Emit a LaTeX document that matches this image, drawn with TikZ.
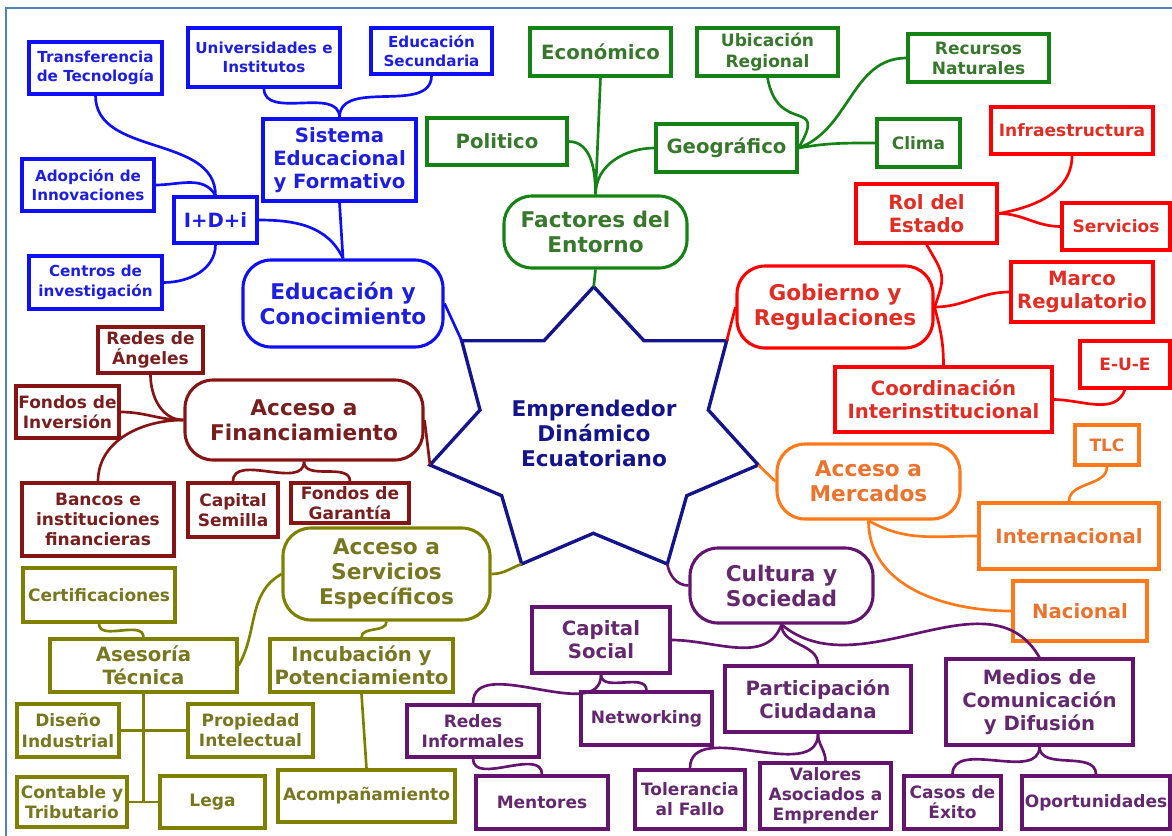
\documentclass[tikz,border=0pt]{standalone}
\usepackage{fontspec}
\setmainfont{DejaVu Sans}

\definecolor{marco}{RGB}{80,130,190}
\definecolor{navy}{RGB}{20,20,140}
\definecolor{azul}{RGB}{15,15,245}
\definecolor{azulT}{RGB}{30,30,225}
\definecolor{verde}{RGB}{20,130,20}
\definecolor{verdeT}{RGB}{55,120,45}
\definecolor{rojo}{RGB}{255,0,0}
\definecolor{rojoT}{RGB}{225,45,35}
\definecolor{granate}{RGB}{135,20,20}
\definecolor{granateT}{RGB}{120,30,30}
\definecolor{oliva}{RGB}{128,128,0}
\definecolor{olivaT}{RGB}{120,118,30}
\definecolor{naranja}{RGB}{255,120,25}
\definecolor{naranjaT}{RGB}{235,115,45}
\definecolor{morado}{RGB}{100,20,110}
\definecolor{moradoT}{RGB}{100,40,110}

\begin{document}
\begin{tikzpicture}[x=0.025cm, y=0.025cm,
    caja/.style={draw, line width=2.2pt, inner sep=1pt, align=center},
    tema/.style={caja, rounded corners=0.7cm},
    tam/.style 2 args={minimum width=#1*0.025cm, minimum height=#2*0.025cm},
    ltxs/.style={font=\bfseries\fontsize{10.8}{13.9}\selectfont},
    lts/.style={font=\bfseries\fontsize{12.1}{14.3}\selectfont},
    ltm/.style={font=\bfseries\fontsize{14}{16.4}\selectfont},
    ltl/.style={font=\bfseries\fontsize{15.4}{17.8}\selectfont},
    azl/.style={draw=azul, text=azulT},
    vrd/.style={draw=verde, text=verdeT},
    roj/.style={draw=rojo, text=rojoT},
    gra/.style={draw=granate, text=granateT},
    olv/.style={draw=oliva, text=olivaT},
    nar/.style={draw=naranja, text=naranjaT},
    mor/.style={draw=morado, text=moradoT},
    rama/.style={line width=1.9pt}]
  \useasboundingbox (0,0) rectangle (1172,-836);
  \draw[marco, line width=1.4pt] (6,-836) -- (6,-8) -- (1172,-8);

  % Estrella
  \coordinate (sT) at (593.7,-286.7);
  \coordinate (sUR) at (726.7,-340.7);
  \coordinate (sR) at (758.3,-465);
  \coordinate (sLR) at (667.3,-564);
  \coordinate (sLL) at (521.7,-564);
  \coordinate (sL) at (430,-465);
  \coordinate (sUL) at (461.7,-340.7);
  \draw[navy, line width=2.4pt, line join=miter] (sT) -- (644,-340.7) -- (sUR) -- (708.3,-410) -- (sR)
    -- (686.7,-495.7) -- (sLR) -- (593.3,-533.3) -- (sLL) -- (501.7,-495.7) -- (sL)
    -- (480,-410) -- (sUL) -- (544,-340.7) -- cycle;
  \node[text=navy, ltl, align=center] (emp) at (594,-433) {Emprendedor\\Dinámico\\Ecuatoriano};

  % Nodos: educacion
  \node[caja, azl, ltxs, tam={133}{52}] (transf) at (95.5,-68) {Transferencia\\de Tecnología};
  \node[caja, azl, ltxs, tam={152}{59}] (univ) at (264,-57.5) {Universidades e\\Institutos};
  \node[caja, azl, ltxs, tam={121}{46}] (secund) at (431.5,-51) {Educación\\Secundaria};
  \node[caja, azl, ltm, tam={153}{82}] (sistema) at (339.5,-160) {Sistema\\Educacional\\y Formativo};
  \node[caja, azl, ltxs, tam={132}{52}] (adop) at (88,-185) {Adopción de\\Innovaciones};
  \node[caja, azl, ltm, tam={83}{46}] (idi) at (215.5,-220) {I+D+i};
  \node[caja, azl, ltxs, tam={133}{53}] (centros) at (95.5,-282.5) {Centros de\\investigación};
  \node[tema, azl, ltl, tam={200}{87}] (educ) at (343,-303.5) {Educación y\\Conocimiento};

  % Nodos: entorno
  \node[caja, vrd, ltm, tam={141}{48}] (economico) at (600.5,-52) {Económico};
  \node[caja, vrd, ltm, tam={140}{47}] (politico) at (497,-141.5) {Politico};
  \node[caja, vrd, ltm, tam={141}{48}] (geografico) at (726.5,-148) {Geográfico};
  \node[caja, vrd, lts, tam={141}{48}] (ubicacion) at (767.5,-52) {Ubicación\\Regional};
  \node[caja, vrd, lts, tam={141}{48}] (recursos) at (978.5,-58) {Recursos\\Naturales};
  \node[caja, vrd, lts, tam={83}{48}] (clima) at (918.5,-143) {Clima};
  \node[tema, vrd, ltl, tam={183}{72}] (factores) at (595.5,-232) {Factores del\\Entorno};

  % Nodos: gobierno
  \node[caja, roj, lts, tam={162}{47}] (infra) at (1072,-130.5) {Infraestructura};
  \node[caja, roj, ltm, tam={141}{59}] (rol) at (926.5,-213.5) {Rol del\\Estado};
  \node[caja, roj, lts, tam={108}{47}] (servicios) at (1116,-226.5) {Servicios};
  \node[tema, roj, ltl, tam={196}{82}] (gobierno) at (835,-307) {Gobierno y\\Regulaciones};
  \node[caja, roj, ltm, tam={142}{60}] (regul) at (1082,-292) {Marco\\Regulatorio};
  \node[caja, roj, lts, tam={90}{47}] (eue) at (1125,-364.5) {E-U-E};
  \node[caja, roj, ltm, tam={217}{65}] (coord) at (943.5,-399.5) {Coordinación\\Interinstitucional};

  % Nodos: financiamiento
  \node[caja, gra, lts, tam={105}{46}] (angeles) at (150.5,-350) {Redes de\\Ángeles};
  \node[caja, gra, lts, tam={103}{52}] (inversion) at (67.5,-412) {Fondos de\\Inversión};
  \node[tema, gra, ltl, tam={238}{80}] (financ) at (304,-420) {Acceso a\\Financiamiento};
  \node[caja, gra, lts, tam={152}{73}] (bancos) at (98,-519.5) {Bancos e\\instituciones\\financieras};
  \node[caja, gra, lts, tam={90}{54}] (semilla) at (233,-510) {Capital\\Semilla};
  \node[caja, gra, lts, tam={118}{40}] (garantia) at (350,-503) {Fondos de\\Garantía};

  % Nodos: servicios
  \node[tema, olv, ltl, tam={207}{92}] (servesp) at (386.5,-574) {Acceso a\\Servicios\\Específicos};
  \node[caja, olv, lts, tam={152}{54}] (certif) at (99,-595) {Certificaciones};
  \node[caja, olv, ltm, tam={187}{53}] (asesoria) at (143.5,-665.5) {Asesoría\\Técnica};
  \node[caja, olv, ltm, tam={183}{53}] (incub) at (361.5,-665.5) {Incubación y\\Potenciamiento};
  \node[caja, olv, lts, tam={102}{53}] (diseno) at (68,-730.5) {Diseño\\Industrial};
  \node[caja, olv, lts, tam={125}{53}] (propiedad) at (250.5,-730.5) {Propiedad\\Intelectual};
  \node[caja, olv, lts, tam={110}{50}] (contable) at (72,-802) {Contable y\\Tributario};
  \node[caja, olv, lts, tam={105}{52}] (lega) at (212.5,-802) {Lega};
  \node[caja, olv, lts, tam={177}{52}] (acomp) at (366.5,-796) {Acompañamiento};

  % Nodos: mercados
  \node[tema, nar, ltl, tam={183}{75}] (mercados) at (868.5,-481.5) {Acceso a\\Mercados};
  \node[caja, nar, lts, tam={64}{40}] (tlc) at (1107,-445) {TLC};
  \node[caja, nar, ltm, tam={180}{66}] (internac) at (1069,-536) {Internacional};
  \node[caja, nar, ltm, tam={134}{60}] (nacional) at (1080,-611) {Nacional};

  % Nodos: cultura
  \node[tema, mor, ltl, tam={183}{75}] (cultura) at (781.5,-585.5) {Cultura y\\Sociedad};
  \node[caja, mor, ltm, tam={138}{66}] (capsocial) at (601,-640) {Capital\\Social};
  \node[caja, mor, ltm, tam={186}{66}] (particip) at (818,-699) {Participación\\Ciudadana};
  \node[caja, mor, ltm, tam={187}{86}] (medios) at (1039.5,-702) {Medios de\\Comunicación\\y Difusión};
  \node[caja, mor, lts, tam={132}{52}] (redesinf) at (473,-731) {Redes\\Informales};
  \node[caja, mor, lts, tam={131}{53}] (networking) at (646.5,-718.5) {Networking};
  \node[caja, mor, lts, tam={132}{53}] (mentores) at (542,-802.5) {Mentores};
  \node[caja, mor, lts, tam={110}{59}] (tolerancia) at (690,-799.5) {Tolerancia\\al Fallo};
  \node[caja, mor, lts, tam={131}{66}] (valores) at (825.5,-796) {Valores\\Asociados a\\Emprender};
  \node[caja, mor, lts, tam={97}{53}] (casos) at (952.5,-802.5) {Casos de\\Éxito};
  \node[caja, mor, lts, tam={148}{53}] (oportun) at (1096,-802.5) {Oportunidades};

  % Aristas: educacion
  \draw[rama, azul] (univ.south) to[out=-90, in=90] (sistema.north);
  \draw[rama, azul] (secund.south) to[out=-90, in=90] (sistema.north);
  \draw[rama, azul] (sistema.south) -- (educ.north);
  \draw[rama, azul] (idi.east) to[out=0, in=115] (educ.north);
  \draw[rama, azul] (transf.south) to[out=-90, in=90] (idi.north);
  \draw[rama, azul] (adop.east) to[out=0, in=120] (idi.north);
  \draw[rama, azul] (centros.east) to[out=0, in=-90] (idi.south);
  \draw[rama, azul] (educ.east) -- (sUL);

  % Aristas: entorno
  \draw[rama, verde] (economico.south) -- (factores.north);
  \draw[rama, verde] (politico.east) to[out=0, in=90] (factores.north);
  \draw[rama, verde] (geografico.west) to[out=180, in=90] (factores.north);
  \draw[rama, verde] (ubicacion.south) to[out=-80, in=60, looseness=2] (geografico.east);
  \draw[rama, verde] (recursos.west) to[out=180, in=20] (geografico.east);
  \draw[rama, verde] (clima.west) to[out=180, in=10] (geografico.east);
  \draw[rama, verde] (factores.south) -- (sT);

  % Aristas: gobierno
  \draw[rama, rojo] (infra.south) to[out=-90, in=10] (rol.east);
  \draw[rama, rojo] (servicios.west) to[out=180, in=0] (rol.east);
  \draw[rama, rojo] (rol.south) to[out=-60, in=70, looseness=1.4] (gobierno.east);
  \draw[rama, rojo] (regul.west) to[out=180, in=0] (gobierno.east);
  \draw[rama, rojo] (coord.north) to[out=90, in=-75] (gobierno.east);
  \draw[rama, rojo] (eue.south) to[out=-110, in=0] (coord.east);
  \draw[rama, rojo] (gobierno.west) -- (sUR);

  % Aristas: financiamiento
  \draw[rama, granate] (angeles.south) to[out=-90, in=180] (financ.west);
  \draw[rama, granate] (inversion.east) to[out=0, in=180] (financ.west);
  \draw[rama, granate] (bancos.north) to[out=90, in=180] (financ.west);
  \draw[rama, granate] (financ.south) to[out=-90, in=90] (semilla.north);
  \draw[rama, granate] (financ.south) to[out=-90, in=90] (garantia.north);
  \draw[rama, granate] (financ.east) -- (sL);

  % Aristas: servicios
  \draw[rama, oliva] (servesp.west) to[out=210, in=60] (asesoria.east);
  \draw[rama, oliva] (servesp.south) to[out=-90, in=90] (incub.north);
  \draw[rama, oliva] (servesp.east) to[out=0, in=200] (sLL);
  \draw[rama, oliva] (incub.south) -- (acomp.north);
  \draw[rama, oliva] (certif.south) to[out=-90, in=90] (asesoria.north);
  \draw[rama, oliva] (asesoria.south) -- (asesoria.south |- lega.west);
  \draw[rama, oliva] (diseno.east) -- (propiedad.west);
  \draw[rama, oliva] (contable.east) -- (lega.west);

  % Aristas: mercados
  \draw[rama, naranja] (sR) -- (mercados.west);
  \draw[rama, naranja] (mercados.south) to[out=-30, in=180] (internac.west);
  \draw[rama, naranja] (mercados.south) to[out=-90, in=180] (nacional.west);
  \draw[rama, naranja] (tlc.south) to[out=-90, in=90] (internac.north);

  % Aristas: cultura
  \draw[rama, morado] (sLR) to[out=-80, in=180] (cultura.west);
  \draw[rama, morado] (cultura.south) to[out=-110, in=0] (capsocial.east);
  \draw[rama, morado] (cultura.south) to[out=-90, in=90] (particip.north);
  \draw[rama, morado] (cultura.south) to[out=-40, in=120] (medios.north);
  \draw[rama, morado] (capsocial.south) to[out=-90, in=90] (redesinf.north);
  \draw[rama, morado] (capsocial.south) to[out=-90, in=90] (networking.north);
  \draw[rama, morado] (redesinf.south) to[out=-90, in=90] (mentores.north);
  \draw[rama, morado] (particip.south) to[out=-90, in=90] (tolerancia.north);
  \draw[rama, morado] (particip.south) to[out=-90, in=90] (valores.north);
  \draw[rama, morado] (medios.south) to[out=-90, in=90] (casos.north);
  \draw[rama, morado] (medios.south) to[out=-90, in=90] (oportun.north);
\end{tikzpicture}
\end{document}
